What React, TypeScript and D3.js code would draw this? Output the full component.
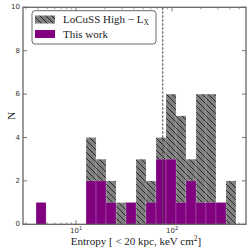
import React from 'react';
import * as d3 from 'd3';

// histogram counts per log bin (20 bins, evenly spaced in log10)
const binLo = 3.83;
const binHi = 464;
const locussCounts = [1, 0, 0, 0, 0, 4, 3, 2, 1, 1, 3, 2, 4, 6, 5, 3, 6, 6, 1, 2];
const thisWorkCounts = [1, 0, 0, 0, 0, 2, 2, 1, 0, 1, 0, 1, 3, 3, 1, 2, 1, 1, 1, 0];
const cutLine = 80;
const yTicks = [0, 2, 4, 6, 8, 10];
const xMajor = [10, 100];

const W = 249;
const H = 251;

export default function App() {
  const x = d3.scaleLog().domain([2.8, 590]).range([23, 246]);
  const y = d3.scaleLinear().domain([0, 10]).range([224.3, 7.3]);

  const nBins = locussCounts.length;
  const step = (Math.log10(binHi) - Math.log10(binLo)) / nBins;
  const edges = d3.range(nBins + 1).map((i) => Math.pow(10, Math.log10(binLo) + i * step));

  const minor: number[] = [];
  [1, 10, 100].forEach((dec) => {
    for (let k = 2; k <= 9; k++) {
      const v = dec * k;
      if (v > 2.8 && v < 590) minor.push(v);
    }
  });

  const [x0, x1] = x.range();
  const [yb, yt] = y.range();
  const tickFont = "'DejaVu Sans', sans-serif";
  const serif = "'Liberation Serif', 'DejaVu Serif', serif";

  const bars = (counts: number[], fill: string) =>
    counts.map((c, i) =>
      c > 0 ? (
        <rect
          key={i}
          x={x(edges[i])}
          y={y(c)}
          width={x(edges[i + 1]) - x(edges[i])}
          height={y(0) - y(c)}
          fill={fill}
          stroke="rgba(255,255,255,0.35)"
          strokeWidth={0.5}
        />
      ) : null
    );

  return (
    <svg
      width={W}
      height={H}
      style={{ position: 'absolute', left: 0, top: 0, background: '#fff' }}
    >
      <defs>
        <pattern id="hatch" patternUnits="userSpaceOnUse" width={6} height={6}>
          <rect width={6} height={6} fill="#808080" />
          <path d="M0,0 L6,6 M-1,5 L1,7 M5,-1 L7,1" stroke="#262626" strokeWidth={1} />
        </pattern>
      </defs>

      {bars(locussCounts, 'url(#hatch)')}
      {bars(thisWorkCounts, '#800080')}

      <line
        x1={x(cutLine)}
        x2={x(cutLine)}
        y1={yt}
        y2={yb}
        stroke="#555"
        strokeWidth={1.1}
        strokeDasharray="2.5,1.5"
      />

      {/* ticks */}
      {yTicks.map((t) => (
        <g key={t}>
          <line x1={x0} x2={x0 + 4} y1={y(t)} y2={y(t)} stroke="#555" strokeWidth={0.8} />
          <line x1={x1} x2={x1 - 4} y1={y(t)} y2={y(t)} stroke="#555" strokeWidth={0.8} />
          <text
            x={x0 - 3}
            y={y(t)}
            textAnchor="end"
            dominantBaseline="central"
            fontFamily={tickFont}
            fontSize={7}
            fill="#333"
          >
            {t}
          </text>
        </g>
      ))}
      {xMajor.map((t, i) => (
        <g key={t}>
          <line x1={x(t)} x2={x(t)} y1={yb} y2={yb - 4} stroke="#555" strokeWidth={0.8} />
          <line x1={x(t)} x2={x(t)} y1={yt} y2={yt + 4} stroke="#555" strokeWidth={0.8} />
          <text x={x(t)} y={yb + 9} textAnchor="middle" fontFamily={tickFont} fontSize={7} fill="#333">
            {'10'}
            <tspan dy={-3} fontSize={5}>
              {String(i + 1)}
            </tspan>
          </text>
        </g>
      ))}
      {minor.map((t) => (
        <g key={t}>
          <line x1={x(t)} x2={x(t)} y1={yb} y2={yb - 2} stroke="#555" strokeWidth={0.6} />
          <line x1={x(t)} x2={x(t)} y1={yt} y2={yt + 2} stroke="#555" strokeWidth={0.6} />
        </g>
      ))}

      <rect x={x0} y={yt} width={x1 - x0} height={yb - yt} fill="none" stroke="#666" strokeWidth={1.3} />

      {/* axis labels */}
      <text
        transform={`translate(11,${(yt + yb) / 2}) rotate(-90)`}
        textAnchor="middle"
        dominantBaseline="central"
        fontFamily={serif}
        fontSize={11}
        fill="#222"
      >
        N
      </text>
      <text x={136} y={244.5} textAnchor="middle" fontFamily={serif} fontSize={11} fill="#222">
        {'Entropy [ < 20 kpc,  keV cm'}
        <tspan dy={-4} fontSize={7.5}>2</tspan>
        <tspan dy={4}>]</tspan>
      </text>

      {/* legend */}
      <rect x={32} y={10.7} width={124} height={33.3} rx={3} fill="#fff" stroke="#444" strokeWidth={0.8} />
      <rect x={35} y={15.5} width={20} height={8} fill="url(#hatch)" />
      <rect x={35} y={30} width={20} height={8} fill="#800080" />
      <text x={63} y={23} fontFamily={serif} fontSize={11} fill="#222">
        {'LoCuSS High − L'}
        <tspan dy={2} fontSize={7.5}>X</tspan>
      </text>
      <text x={63} y={37.5} fontFamily={serif} fontSize={11} fill="#222">
        This work
      </text>
    </svg>
  );
}
